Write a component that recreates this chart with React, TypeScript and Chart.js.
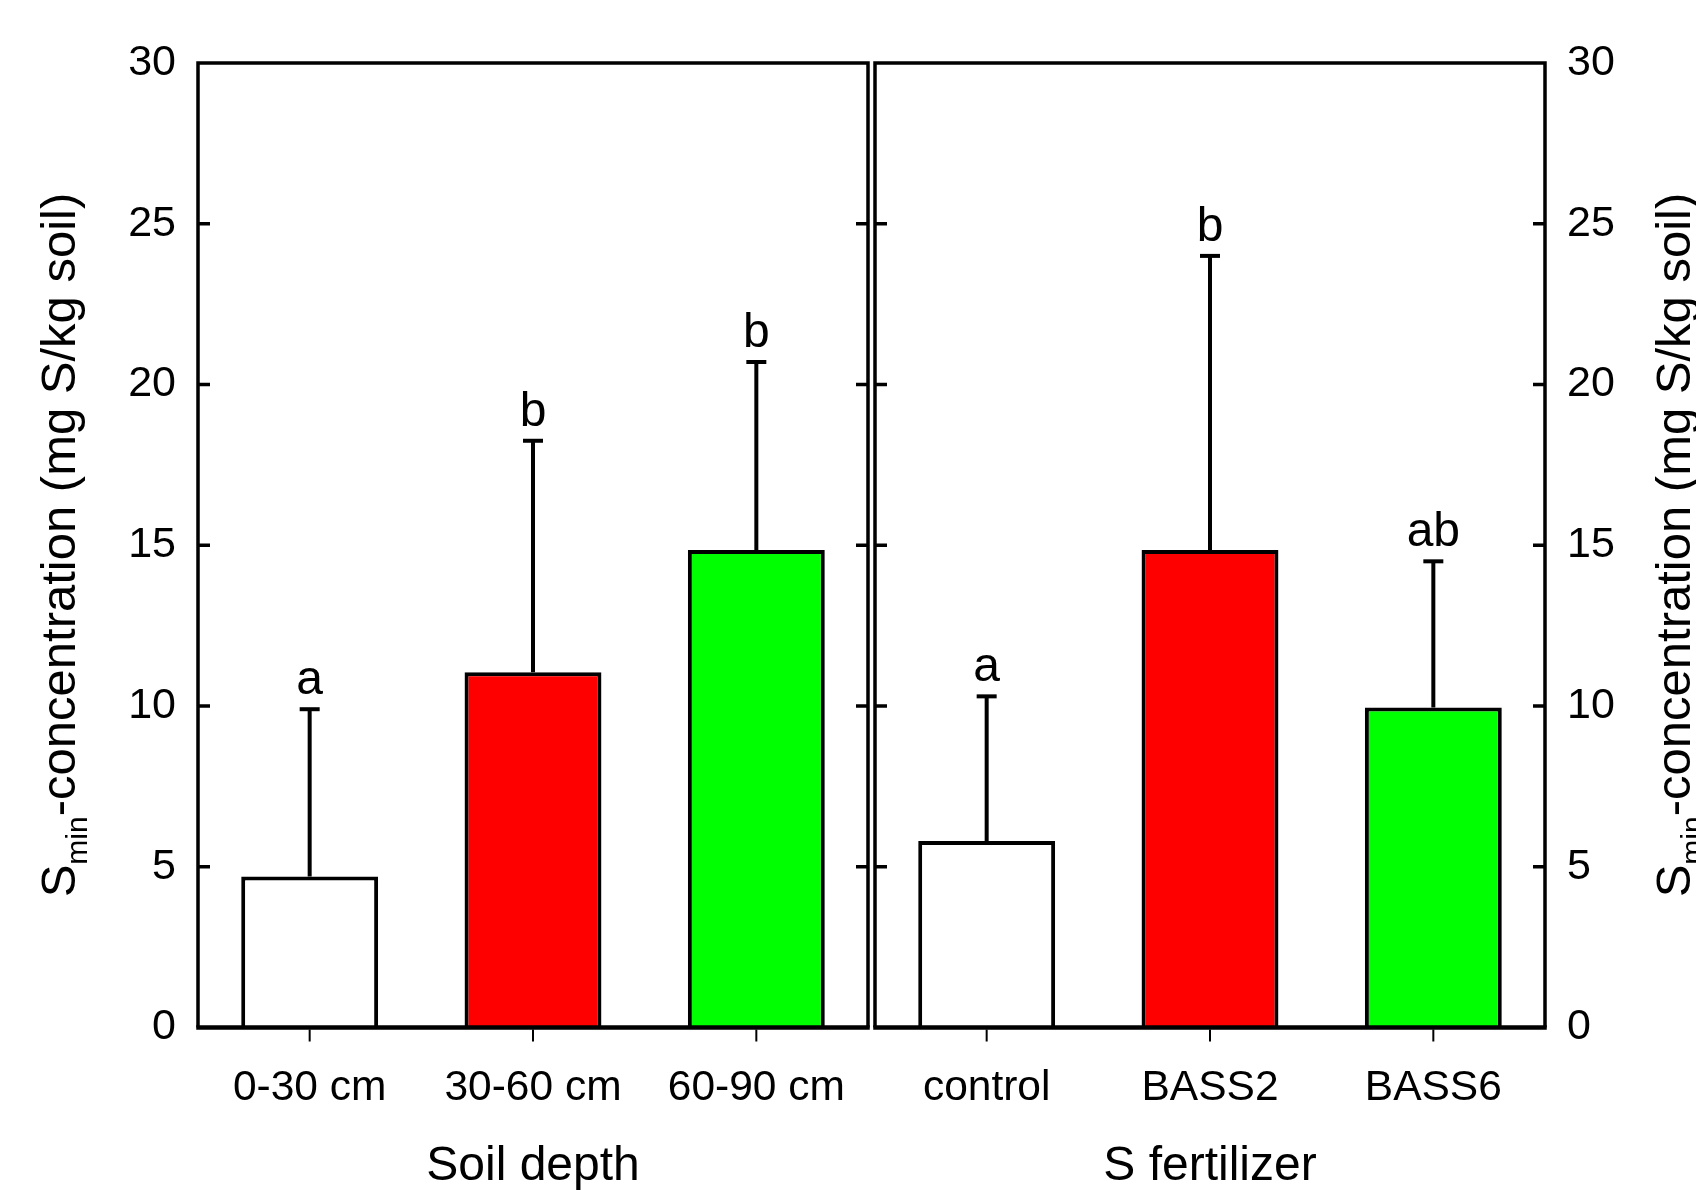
import React, { useEffect, useRef } from 'react';
import { Chart, registerables } from 'chart.js';

Chart.register(...registerables);

const FONT = '"Liberation Sans", Arial, Helvetica, sans-serif';

// ---- data ----
const depthCategories = ['0-30 cm', '30-60 cm', '60-90 cm'];
const depthMeans = [4.7, 11.05, 14.85];
const depthErrors = [5.2, 7.2, 5.85];
const depthLetters = ['a', 'b', 'b'];

const fertCategories = ['control', 'BASS2', 'BASS6'];
const fertMeans = [5.8, 14.85, 9.95];
const fertErrors = [4.5, 9.15, 4.55];
const fertLetters = ['a', 'b', 'ab'];

const barColors = ['#ffffff', '#ff0000', '#00ff00'];
const yTickValues = [0, 5, 10, 15, 20, 25, 30];
const Y_MIN = 0;
const Y_MAX = 30;
const Y_STEP = 5;

const yTitleMain = 'S';
const yTitleSub = 'min';
const yTitleRest = '-concentration (mg S/kg soil)';

const CANVAS_H = 1190;
const LEFT_W = 872;
const RIGHT_W = 1696 - LEFT_W;

function drawYTitle(ctx: CanvasRenderingContext2D, baselineX: number, centerY: number) {
  ctx.save();
  ctx.translate(baselineX, centerY);
  ctx.rotate(-Math.PI / 2);
  const main = `49px ${FONT}`;
  const sub = `30px ${FONT}`;
  ctx.font = main;
  const wS = ctx.measureText(yTitleMain).width;
  const wRest = ctx.measureText(yTitleRest).width;
  ctx.font = sub;
  const wSub = ctx.measureText(yTitleSub).width;
  const total = wS + wSub + wRest;
  let x = -total / 2;
  ctx.fillStyle = '#000';
  ctx.textAlign = 'left';
  ctx.textBaseline = 'alphabetic';
  ctx.font = main;
  ctx.fillText(yTitleMain, x, 0);
  x += wS;
  ctx.font = sub;
  ctx.fillText(yTitleSub, x, 12);
  x += wSub;
  ctx.font = main;
  ctx.fillText(yTitleRest, x, 0);
  ctx.restore();
}

function makeDecor(errors: number[], letters: string[], titleBaselineX: number) {
  return {
    id: 'panelDecor',
    afterDatasetsDraw(chart: any) {
      const ctx: CanvasRenderingContext2D = chart.ctx;
      const { left, right, top, bottom } = chart.chartArea;
      const ys = chart.scales.y;
      const xs = chart.scales.x;
      const meta = chart.getDatasetMeta(0);
      const means = chart.data.datasets[0].data as number[];
      ctx.save();
      ctx.strokeStyle = '#000';
      ctx.fillStyle = '#000';
      // error bars + letters
      meta.data.forEach((el: any, i: number) => {
        const x = el.x;
        const yTop = el.y;
        const yCap = ys.getPixelForValue(means[i] + errors[i]);
        ctx.lineWidth = 4;
        ctx.beginPath();
        ctx.moveTo(x, yTop);
        ctx.lineTo(x, yCap);
        ctx.stroke();
        ctx.lineWidth = 4;
        ctx.beginPath();
        ctx.moveTo(x - 10, yCap);
        ctx.lineTo(x + 10, yCap);
        ctx.stroke();
        ctx.font = `48px ${FONT}`;
        ctx.textAlign = 'center';
        ctx.textBaseline = 'alphabetic';
        ctx.fillText(letters[i], x, yCap - 15);
      });
      // frame
      ctx.lineWidth = 3.5;
      ctx.beginPath();
      ctx.moveTo(left, bottom);
      ctx.lineTo(left, top);
      ctx.lineTo(right, top);
      ctx.lineTo(right, bottom);
      ctx.stroke();
      ctx.lineWidth = 4.5;
      ctx.beginPath();
      ctx.moveTo(left - 1.75, bottom);
      ctx.lineTo(right + 1.75, bottom);
      ctx.stroke();
      // inside y ticks on both sides
      ctx.lineWidth = 3.5;
      yTickValues.forEach((v) => {
        if (v === Y_MIN || v === Y_MAX) return;
        const py = ys.getPixelForValue(v);
        ctx.beginPath();
        ctx.moveTo(left, py);
        ctx.lineTo(left + 12, py);
        ctx.moveTo(right, py);
        ctx.lineTo(right - 12, py);
        ctx.stroke();
      });
      // x ticks below axis
      ctx.lineWidth = 2;
      for (let i = 0; i < xs.ticks.length; i++) {
        const px = xs.getPixelForValue(i);
        ctx.beginPath();
        ctx.moveTo(px, bottom + 2);
        ctx.lineTo(px, bottom + 14);
        ctx.stroke();
      }
      ctx.restore();
      drawYTitle(ctx, titleBaselineX, 545);
    },
  };
}

function makeConfig(
  categories: string[],
  means: number[],
  errors: number[],
  letters: string[],
  xTitle: string,
  side: 'left' | 'right'
) {
  const isLeft = side === 'left';
  return {
    type: 'bar' as const,
    data: {
      labels: categories,
      datasets: [
        {
          data: means,
          backgroundColor: barColors,
          borderColor: '#000',
          borderWidth: 4,
          barPercentage: 0.613,
          categoryPercentage: 1,
        },
      ],
    },
    options: {
      responsive: false,
      maintainAspectRatio: false,
      animation: false as const,
      layout: {
        padding: isLeft
          ? { top: 63, right: 4, bottom: 0, left: 0 }
          : { top: 63, right: 0, bottom: 0, left: 3 },
      },
      plugins: {
        legend: { display: false },
        tooltip: { enabled: false },
      },
      scales: {
        x: {
          position: 'bottom' as const,
          grid: { display: false, drawTicks: false },
          border: { display: false },
          ticks: {
            font: { family: FONT, size: 42.5 },
            color: '#000',
            padding: 35,
            maxRotation: 0,
            autoSkip: false,
          },
          title: {
            display: true,
            text: xTitle,
            font: { family: FONT, size: 48, lineHeight: 0.96 },
            color: '#000',
            padding: { top: 0, bottom: 0 },
          },
          afterFit: (s: any) => {
            s.height = 162.5;
            s.paddingLeft = 0;
            s.paddingRight = 0;
          },
        },
        y: {
          position: side,
          min: Y_MIN,
          max: Y_MAX,
          grid: { display: false, drawTicks: false },
          border: { display: false },
          ticks: {
            stepSize: Y_STEP,
            font: { family: FONT, size: 43 },
            color: '#000',
            padding: 22,
          },
          afterFit: (s: any) => {
            s.width = isLeft ? 198 : 151;
          },
        },
      },
    },
    plugins: [makeDecor(errors, letters, isLeft ? 75 : 1690 - LEFT_W)],
  };
}

function Panel(props: {
  width: number;
  left: number;
  categories: string[];
  means: number[];
  errors: number[];
  letters: string[];
  xTitle: string;
  side: 'left' | 'right';
}) {
  const ref = useRef<HTMLCanvasElement | null>(null);
  useEffect(() => {
    if (!ref.current) return;
    const chart = new Chart(
      ref.current,
      makeConfig(props.categories, props.means, props.errors, props.letters, props.xTitle, props.side) as any
    );
    return () => chart.destroy();
  }, []);
  return (
    <canvas
      ref={ref}
      width={props.width}
      height={CANVAS_H}
      style={{ position: 'absolute', left: props.left, top: 0, width: props.width, height: CANVAS_H, display: 'block' }}
    />
  );
}

export default function App() {
  return (
    <div style={{ position: 'absolute', left: 0, top: 0, width: 1696, height: CANVAS_H, background: '#fff', overflow: 'hidden' }}>
      <Panel
        width={LEFT_W}
        left={0}
        categories={depthCategories}
        means={depthMeans}
        errors={depthErrors}
        letters={depthLetters}
        xTitle="Soil depth"
        side="left"
      />
      <Panel
        width={RIGHT_W}
        left={LEFT_W}
        categories={fertCategories}
        means={fertMeans}
        errors={fertErrors}
        letters={fertLetters}
        xTitle="S fertilizer"
        side="right"
      />
    </div>
  );
}
